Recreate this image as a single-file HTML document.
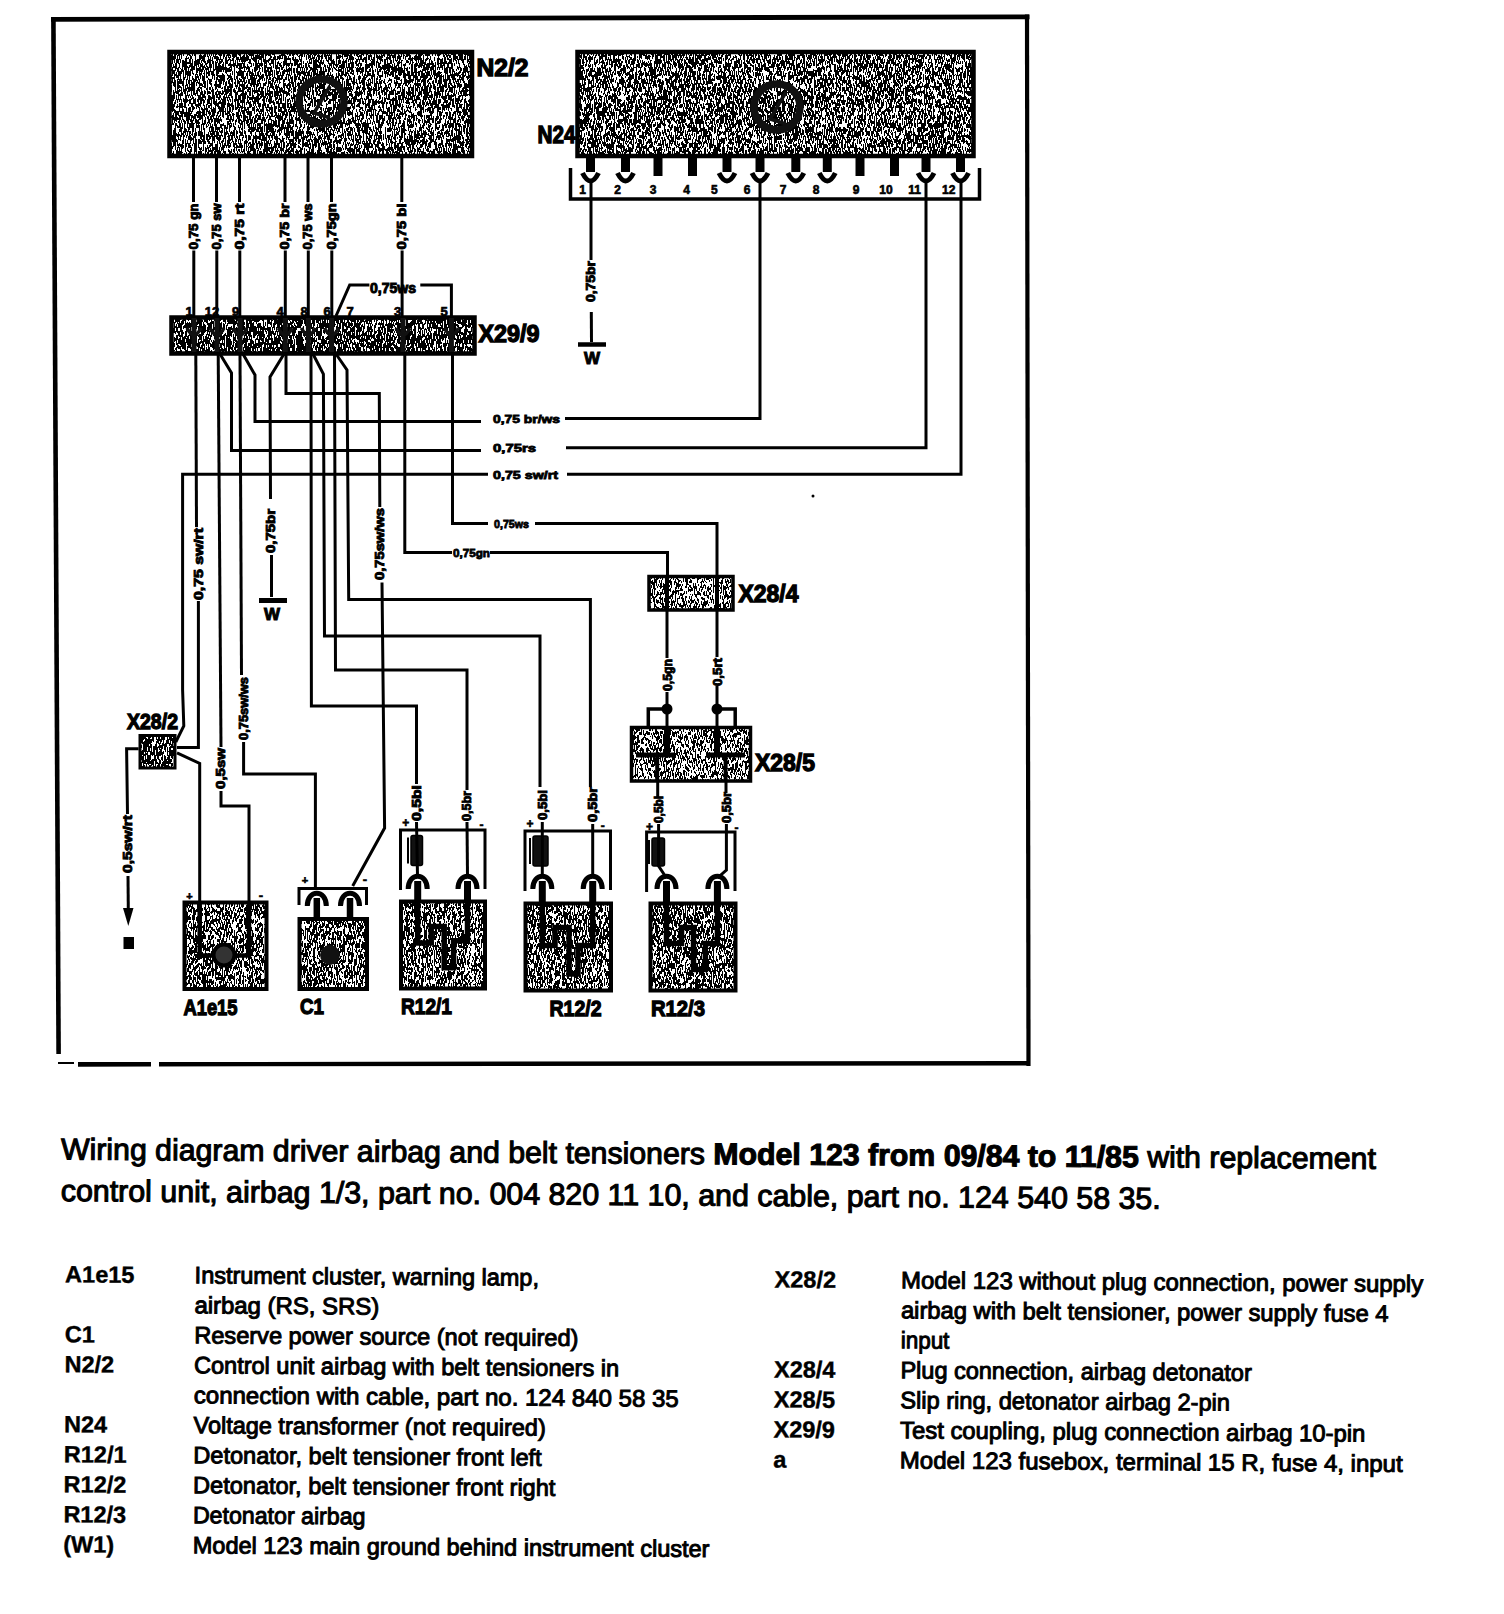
<!DOCTYPE html>
<html><head><meta charset="utf-8"><style>
html,body{margin:0;padding:0;background:#fff;}
svg{display:block;}
text{font-family:"Liberation Sans",sans-serif;fill:#000;}
</style></head><body>
<svg width="1504" height="1614" viewBox="0 0 1504 1614">
<defs><filter id="tx53_3" x="0" y="0" width="1" height="1" color-interpolation-filters="sRGB"><feTurbulence type="fractalNoise" baseFrequency="1.9 0.25" numOctaves="1" seed="3"/><feColorMatrix type="matrix" values="1 0 0 0 0  1 0 0 0 0  1 0 0 0 0  0 0 0 0 1"/><feComponentTransfer><feFuncR type="discrete" tableValues="0 0 0 0 0 0 0 0 0 0 0 0 0 0 0 0 0 0 0 0 0 0 0 0 0 0 0 0 0 0 0 0 0 0 0 0 0 0 0 0 0 0 0 0 0 0 0 0 0 0 0 0 0 1 1 1 1 1 1 1 1 1 1 1 1 1 1 1 1 1 1 1 1 1 1 1 1 1 1 1 1 1 1 1 1 1 1 1 1 1 1 1 1 1 1 1 1 1 1 1"/><feFuncG type="discrete" tableValues="0 0 0 0 0 0 0 0 0 0 0 0 0 0 0 0 0 0 0 0 0 0 0 0 0 0 0 0 0 0 0 0 0 0 0 0 0 0 0 0 0 0 0 0 0 0 0 0 0 0 0 0 0 1 1 1 1 1 1 1 1 1 1 1 1 1 1 1 1 1 1 1 1 1 1 1 1 1 1 1 1 1 1 1 1 1 1 1 1 1 1 1 1 1 1 1 1 1 1 1"/><feFuncB type="discrete" tableValues="0 0 0 0 0 0 0 0 0 0 0 0 0 0 0 0 0 0 0 0 0 0 0 0 0 0 0 0 0 0 0 0 0 0 0 0 0 0 0 0 0 0 0 0 0 0 0 0 0 0 0 0 0 1 1 1 1 1 1 1 1 1 1 1 1 1 1 1 1 1 1 1 1 1 1 1 1 1 1 1 1 1 1 1 1 1 1 1 1 1 1 1 1 1 1 1 1 1 1 1"/></feComponentTransfer></filter><filter id="tx53_5" x="0" y="0" width="1" height="1" color-interpolation-filters="sRGB"><feTurbulence type="fractalNoise" baseFrequency="1.9 0.25" numOctaves="1" seed="5"/><feColorMatrix type="matrix" values="1 0 0 0 0  1 0 0 0 0  1 0 0 0 0  0 0 0 0 1"/><feComponentTransfer><feFuncR type="discrete" tableValues="0 0 0 0 0 0 0 0 0 0 0 0 0 0 0 0 0 0 0 0 0 0 0 0 0 0 0 0 0 0 0 0 0 0 0 0 0 0 0 0 0 0 0 0 0 0 0 0 0 0 0 0 0 1 1 1 1 1 1 1 1 1 1 1 1 1 1 1 1 1 1 1 1 1 1 1 1 1 1 1 1 1 1 1 1 1 1 1 1 1 1 1 1 1 1 1 1 1 1 1"/><feFuncG type="discrete" tableValues="0 0 0 0 0 0 0 0 0 0 0 0 0 0 0 0 0 0 0 0 0 0 0 0 0 0 0 0 0 0 0 0 0 0 0 0 0 0 0 0 0 0 0 0 0 0 0 0 0 0 0 0 0 1 1 1 1 1 1 1 1 1 1 1 1 1 1 1 1 1 1 1 1 1 1 1 1 1 1 1 1 1 1 1 1 1 1 1 1 1 1 1 1 1 1 1 1 1 1 1"/><feFuncB type="discrete" tableValues="0 0 0 0 0 0 0 0 0 0 0 0 0 0 0 0 0 0 0 0 0 0 0 0 0 0 0 0 0 0 0 0 0 0 0 0 0 0 0 0 0 0 0 0 0 0 0 0 0 0 0 0 0 1 1 1 1 1 1 1 1 1 1 1 1 1 1 1 1 1 1 1 1 1 1 1 1 1 1 1 1 1 1 1 1 1 1 1 1 1 1 1 1 1 1 1 1 1 1 1"/></feComponentTransfer></filter><filter id="tx56_9" x="0" y="0" width="1" height="1" color-interpolation-filters="sRGB"><feTurbulence type="fractalNoise" baseFrequency="1.9 0.25" numOctaves="1" seed="9"/><feColorMatrix type="matrix" values="1 0 0 0 0  1 0 0 0 0  1 0 0 0 0  0 0 0 0 1"/><feComponentTransfer><feFuncR type="discrete" tableValues="0 0 0 0 0 0 0 0 0 0 0 0 0 0 0 0 0 0 0 0 0 0 0 0 0 0 0 0 0 0 0 0 0 0 0 0 0 0 0 0 0 0 0 0 0 0 0 0 0 0 0 0 0 0 0 0 1 1 1 1 1 1 1 1 1 1 1 1 1 1 1 1 1 1 1 1 1 1 1 1 1 1 1 1 1 1 1 1 1 1 1 1 1 1 1 1 1 1 1 1"/><feFuncG type="discrete" tableValues="0 0 0 0 0 0 0 0 0 0 0 0 0 0 0 0 0 0 0 0 0 0 0 0 0 0 0 0 0 0 0 0 0 0 0 0 0 0 0 0 0 0 0 0 0 0 0 0 0 0 0 0 0 0 0 0 1 1 1 1 1 1 1 1 1 1 1 1 1 1 1 1 1 1 1 1 1 1 1 1 1 1 1 1 1 1 1 1 1 1 1 1 1 1 1 1 1 1 1 1"/><feFuncB type="discrete" tableValues="0 0 0 0 0 0 0 0 0 0 0 0 0 0 0 0 0 0 0 0 0 0 0 0 0 0 0 0 0 0 0 0 0 0 0 0 0 0 0 0 0 0 0 0 0 0 0 0 0 0 0 0 0 0 0 0 1 1 1 1 1 1 1 1 1 1 1 1 1 1 1 1 1 1 1 1 1 1 1 1 1 1 1 1 1 1 1 1 1 1 1 1 1 1 1 1 1 1 1 1"/></feComponentTransfer></filter><filter id="tx50_11" x="0" y="0" width="1" height="1" color-interpolation-filters="sRGB"><feTurbulence type="fractalNoise" baseFrequency="1.9 0.25" numOctaves="1" seed="11"/><feColorMatrix type="matrix" values="1 0 0 0 0  1 0 0 0 0  1 0 0 0 0  0 0 0 0 1"/><feComponentTransfer><feFuncR type="discrete" tableValues="0 0 0 0 0 0 0 0 0 0 0 0 0 0 0 0 0 0 0 0 0 0 0 0 0 0 0 0 0 0 0 0 0 0 0 0 0 0 0 0 0 0 0 0 0 0 0 0 0 0 1 1 1 1 1 1 1 1 1 1 1 1 1 1 1 1 1 1 1 1 1 1 1 1 1 1 1 1 1 1 1 1 1 1 1 1 1 1 1 1 1 1 1 1 1 1 1 1 1 1"/><feFuncG type="discrete" tableValues="0 0 0 0 0 0 0 0 0 0 0 0 0 0 0 0 0 0 0 0 0 0 0 0 0 0 0 0 0 0 0 0 0 0 0 0 0 0 0 0 0 0 0 0 0 0 0 0 0 0 1 1 1 1 1 1 1 1 1 1 1 1 1 1 1 1 1 1 1 1 1 1 1 1 1 1 1 1 1 1 1 1 1 1 1 1 1 1 1 1 1 1 1 1 1 1 1 1 1 1"/><feFuncB type="discrete" tableValues="0 0 0 0 0 0 0 0 0 0 0 0 0 0 0 0 0 0 0 0 0 0 0 0 0 0 0 0 0 0 0 0 0 0 0 0 0 0 0 0 0 0 0 0 0 0 0 0 0 0 1 1 1 1 1 1 1 1 1 1 1 1 1 1 1 1 1 1 1 1 1 1 1 1 1 1 1 1 1 1 1 1 1 1 1 1 1 1 1 1 1 1 1 1 1 1 1 1 1 1"/></feComponentTransfer></filter><filter id="tx55_13" x="0" y="0" width="1" height="1" color-interpolation-filters="sRGB"><feTurbulence type="fractalNoise" baseFrequency="1.9 0.25" numOctaves="1" seed="13"/><feColorMatrix type="matrix" values="1 0 0 0 0  1 0 0 0 0  1 0 0 0 0  0 0 0 0 1"/><feComponentTransfer><feFuncR type="discrete" tableValues="0 0 0 0 0 0 0 0 0 0 0 0 0 0 0 0 0 0 0 0 0 0 0 0 0 0 0 0 0 0 0 0 0 0 0 0 0 0 0 0 0 0 0 0 0 0 0 0 0 0 0 0 0 0 0 1 1 1 1 1 1 1 1 1 1 1 1 1 1 1 1 1 1 1 1 1 1 1 1 1 1 1 1 1 1 1 1 1 1 1 1 1 1 1 1 1 1 1 1 1"/><feFuncG type="discrete" tableValues="0 0 0 0 0 0 0 0 0 0 0 0 0 0 0 0 0 0 0 0 0 0 0 0 0 0 0 0 0 0 0 0 0 0 0 0 0 0 0 0 0 0 0 0 0 0 0 0 0 0 0 0 0 0 0 1 1 1 1 1 1 1 1 1 1 1 1 1 1 1 1 1 1 1 1 1 1 1 1 1 1 1 1 1 1 1 1 1 1 1 1 1 1 1 1 1 1 1 1 1"/><feFuncB type="discrete" tableValues="0 0 0 0 0 0 0 0 0 0 0 0 0 0 0 0 0 0 0 0 0 0 0 0 0 0 0 0 0 0 0 0 0 0 0 0 0 0 0 0 0 0 0 0 0 0 0 0 0 0 0 0 0 0 0 1 1 1 1 1 1 1 1 1 1 1 1 1 1 1 1 1 1 1 1 1 1 1 1 1 1 1 1 1 1 1 1 1 1 1 1 1 1 1 1 1 1 1 1 1"/></feComponentTransfer></filter><filter id="tx52_15" x="0" y="0" width="1" height="1" color-interpolation-filters="sRGB"><feTurbulence type="fractalNoise" baseFrequency="1.9 0.25" numOctaves="1" seed="15"/><feColorMatrix type="matrix" values="1 0 0 0 0  1 0 0 0 0  1 0 0 0 0  0 0 0 0 1"/><feComponentTransfer><feFuncR type="discrete" tableValues="0 0 0 0 0 0 0 0 0 0 0 0 0 0 0 0 0 0 0 0 0 0 0 0 0 0 0 0 0 0 0 0 0 0 0 0 0 0 0 0 0 0 0 0 0 0 0 0 0 0 0 0 1 1 1 1 1 1 1 1 1 1 1 1 1 1 1 1 1 1 1 1 1 1 1 1 1 1 1 1 1 1 1 1 1 1 1 1 1 1 1 1 1 1 1 1 1 1 1 1"/><feFuncG type="discrete" tableValues="0 0 0 0 0 0 0 0 0 0 0 0 0 0 0 0 0 0 0 0 0 0 0 0 0 0 0 0 0 0 0 0 0 0 0 0 0 0 0 0 0 0 0 0 0 0 0 0 0 0 0 0 1 1 1 1 1 1 1 1 1 1 1 1 1 1 1 1 1 1 1 1 1 1 1 1 1 1 1 1 1 1 1 1 1 1 1 1 1 1 1 1 1 1 1 1 1 1 1 1"/><feFuncB type="discrete" tableValues="0 0 0 0 0 0 0 0 0 0 0 0 0 0 0 0 0 0 0 0 0 0 0 0 0 0 0 0 0 0 0 0 0 0 0 0 0 0 0 0 0 0 0 0 0 0 0 0 0 0 0 0 1 1 1 1 1 1 1 1 1 1 1 1 1 1 1 1 1 1 1 1 1 1 1 1 1 1 1 1 1 1 1 1 1 1 1 1 1 1 1 1 1 1 1 1 1 1 1 1"/></feComponentTransfer></filter><filter id="tx52_17" x="0" y="0" width="1" height="1" color-interpolation-filters="sRGB"><feTurbulence type="fractalNoise" baseFrequency="1.9 0.25" numOctaves="1" seed="17"/><feColorMatrix type="matrix" values="1 0 0 0 0  1 0 0 0 0  1 0 0 0 0  0 0 0 0 1"/><feComponentTransfer><feFuncR type="discrete" tableValues="0 0 0 0 0 0 0 0 0 0 0 0 0 0 0 0 0 0 0 0 0 0 0 0 0 0 0 0 0 0 0 0 0 0 0 0 0 0 0 0 0 0 0 0 0 0 0 0 0 0 0 0 1 1 1 1 1 1 1 1 1 1 1 1 1 1 1 1 1 1 1 1 1 1 1 1 1 1 1 1 1 1 1 1 1 1 1 1 1 1 1 1 1 1 1 1 1 1 1 1"/><feFuncG type="discrete" tableValues="0 0 0 0 0 0 0 0 0 0 0 0 0 0 0 0 0 0 0 0 0 0 0 0 0 0 0 0 0 0 0 0 0 0 0 0 0 0 0 0 0 0 0 0 0 0 0 0 0 0 0 0 1 1 1 1 1 1 1 1 1 1 1 1 1 1 1 1 1 1 1 1 1 1 1 1 1 1 1 1 1 1 1 1 1 1 1 1 1 1 1 1 1 1 1 1 1 1 1 1"/><feFuncB type="discrete" tableValues="0 0 0 0 0 0 0 0 0 0 0 0 0 0 0 0 0 0 0 0 0 0 0 0 0 0 0 0 0 0 0 0 0 0 0 0 0 0 0 0 0 0 0 0 0 0 0 0 0 0 0 0 1 1 1 1 1 1 1 1 1 1 1 1 1 1 1 1 1 1 1 1 1 1 1 1 1 1 1 1 1 1 1 1 1 1 1 1 1 1 1 1 1 1 1 1 1 1 1 1"/></feComponentTransfer></filter><filter id="tx52_401" x="0" y="0" width="1" height="1" color-interpolation-filters="sRGB"><feTurbulence type="fractalNoise" baseFrequency="1.9 0.25" numOctaves="1" seed="401"/><feColorMatrix type="matrix" values="1 0 0 0 0  1 0 0 0 0  1 0 0 0 0  0 0 0 0 1"/><feComponentTransfer><feFuncR type="discrete" tableValues="0 0 0 0 0 0 0 0 0 0 0 0 0 0 0 0 0 0 0 0 0 0 0 0 0 0 0 0 0 0 0 0 0 0 0 0 0 0 0 0 0 0 0 0 0 0 0 0 0 0 0 0 1 1 1 1 1 1 1 1 1 1 1 1 1 1 1 1 1 1 1 1 1 1 1 1 1 1 1 1 1 1 1 1 1 1 1 1 1 1 1 1 1 1 1 1 1 1 1 1"/><feFuncG type="discrete" tableValues="0 0 0 0 0 0 0 0 0 0 0 0 0 0 0 0 0 0 0 0 0 0 0 0 0 0 0 0 0 0 0 0 0 0 0 0 0 0 0 0 0 0 0 0 0 0 0 0 0 0 0 0 1 1 1 1 1 1 1 1 1 1 1 1 1 1 1 1 1 1 1 1 1 1 1 1 1 1 1 1 1 1 1 1 1 1 1 1 1 1 1 1 1 1 1 1 1 1 1 1"/><feFuncB type="discrete" tableValues="0 0 0 0 0 0 0 0 0 0 0 0 0 0 0 0 0 0 0 0 0 0 0 0 0 0 0 0 0 0 0 0 0 0 0 0 0 0 0 0 0 0 0 0 0 0 0 0 0 0 0 0 1 1 1 1 1 1 1 1 1 1 1 1 1 1 1 1 1 1 1 1 1 1 1 1 1 1 1 1 1 1 1 1 1 1 1 1 1 1 1 1 1 1 1 1 1 1 1 1"/></feComponentTransfer></filter><filter id="tx52_525" x="0" y="0" width="1" height="1" color-interpolation-filters="sRGB"><feTurbulence type="fractalNoise" baseFrequency="1.9 0.25" numOctaves="1" seed="525"/><feColorMatrix type="matrix" values="1 0 0 0 0  1 0 0 0 0  1 0 0 0 0  0 0 0 0 1"/><feComponentTransfer><feFuncR type="discrete" tableValues="0 0 0 0 0 0 0 0 0 0 0 0 0 0 0 0 0 0 0 0 0 0 0 0 0 0 0 0 0 0 0 0 0 0 0 0 0 0 0 0 0 0 0 0 0 0 0 0 0 0 0 0 1 1 1 1 1 1 1 1 1 1 1 1 1 1 1 1 1 1 1 1 1 1 1 1 1 1 1 1 1 1 1 1 1 1 1 1 1 1 1 1 1 1 1 1 1 1 1 1"/><feFuncG type="discrete" tableValues="0 0 0 0 0 0 0 0 0 0 0 0 0 0 0 0 0 0 0 0 0 0 0 0 0 0 0 0 0 0 0 0 0 0 0 0 0 0 0 0 0 0 0 0 0 0 0 0 0 0 0 0 1 1 1 1 1 1 1 1 1 1 1 1 1 1 1 1 1 1 1 1 1 1 1 1 1 1 1 1 1 1 1 1 1 1 1 1 1 1 1 1 1 1 1 1 1 1 1 1"/><feFuncB type="discrete" tableValues="0 0 0 0 0 0 0 0 0 0 0 0 0 0 0 0 0 0 0 0 0 0 0 0 0 0 0 0 0 0 0 0 0 0 0 0 0 0 0 0 0 0 0 0 0 0 0 0 0 0 0 0 1 1 1 1 1 1 1 1 1 1 1 1 1 1 1 1 1 1 1 1 1 1 1 1 1 1 1 1 1 1 1 1 1 1 1 1 1 1 1 1 1 1 1 1 1 1 1 1"/></feComponentTransfer></filter><filter id="tx52_650" x="0" y="0" width="1" height="1" color-interpolation-filters="sRGB"><feTurbulence type="fractalNoise" baseFrequency="1.9 0.25" numOctaves="1" seed="650"/><feColorMatrix type="matrix" values="1 0 0 0 0  1 0 0 0 0  1 0 0 0 0  0 0 0 0 1"/><feComponentTransfer><feFuncR type="discrete" tableValues="0 0 0 0 0 0 0 0 0 0 0 0 0 0 0 0 0 0 0 0 0 0 0 0 0 0 0 0 0 0 0 0 0 0 0 0 0 0 0 0 0 0 0 0 0 0 0 0 0 0 0 0 1 1 1 1 1 1 1 1 1 1 1 1 1 1 1 1 1 1 1 1 1 1 1 1 1 1 1 1 1 1 1 1 1 1 1 1 1 1 1 1 1 1 1 1 1 1 1 1"/><feFuncG type="discrete" tableValues="0 0 0 0 0 0 0 0 0 0 0 0 0 0 0 0 0 0 0 0 0 0 0 0 0 0 0 0 0 0 0 0 0 0 0 0 0 0 0 0 0 0 0 0 0 0 0 0 0 0 0 0 1 1 1 1 1 1 1 1 1 1 1 1 1 1 1 1 1 1 1 1 1 1 1 1 1 1 1 1 1 1 1 1 1 1 1 1 1 1 1 1 1 1 1 1 1 1 1 1"/><feFuncB type="discrete" tableValues="0 0 0 0 0 0 0 0 0 0 0 0 0 0 0 0 0 0 0 0 0 0 0 0 0 0 0 0 0 0 0 0 0 0 0 0 0 0 0 0 0 0 0 0 0 0 0 0 0 0 0 0 1 1 1 1 1 1 1 1 1 1 1 1 1 1 1 1 1 1 1 1 1 1 1 1 1 1 1 1 1 1 1 1 1 1 1 1 1 1 1 1 1 1 1 1 1 1 1 1"/></feComponentTransfer></filter><filter id="tx50_21" x="0" y="0" width="1" height="1" color-interpolation-filters="sRGB"><feTurbulence type="fractalNoise" baseFrequency="1.9 0.25" numOctaves="1" seed="21"/><feColorMatrix type="matrix" values="1 0 0 0 0  1 0 0 0 0  1 0 0 0 0  0 0 0 0 1"/><feComponentTransfer><feFuncR type="discrete" tableValues="0 0 0 0 0 0 0 0 0 0 0 0 0 0 0 0 0 0 0 0 0 0 0 0 0 0 0 0 0 0 0 0 0 0 0 0 0 0 0 0 0 0 0 0 0 0 0 0 0 0 1 1 1 1 1 1 1 1 1 1 1 1 1 1 1 1 1 1 1 1 1 1 1 1 1 1 1 1 1 1 1 1 1 1 1 1 1 1 1 1 1 1 1 1 1 1 1 1 1 1"/><feFuncG type="discrete" tableValues="0 0 0 0 0 0 0 0 0 0 0 0 0 0 0 0 0 0 0 0 0 0 0 0 0 0 0 0 0 0 0 0 0 0 0 0 0 0 0 0 0 0 0 0 0 0 0 0 0 0 1 1 1 1 1 1 1 1 1 1 1 1 1 1 1 1 1 1 1 1 1 1 1 1 1 1 1 1 1 1 1 1 1 1 1 1 1 1 1 1 1 1 1 1 1 1 1 1 1 1"/><feFuncB type="discrete" tableValues="0 0 0 0 0 0 0 0 0 0 0 0 0 0 0 0 0 0 0 0 0 0 0 0 0 0 0 0 0 0 0 0 0 0 0 0 0 0 0 0 0 0 0 0 0 0 0 0 0 0 1 1 1 1 1 1 1 1 1 1 1 1 1 1 1 1 1 1 1 1 1 1 1 1 1 1 1 1 1 1 1 1 1 1 1 1 1 1 1 1 1 1 1 1 1 1 1 1 1 1"/></feComponentTransfer></filter></defs>
<rect width="1504" height="1614" fill="#fff"/>
<g stroke="#000" fill="none">
<line x1="51" y1="19.3" x2="1029.5" y2="16.8" stroke-width="4.8"/>
<line x1="53.4" y1="17" x2="58.6" y2="1054" stroke-width="4.6"/>
<line x1="1027" y1="14.5" x2="1028.5" y2="1066" stroke-width="4.2"/>
<line x1="78" y1="1064.4" x2="151" y2="1064.3" stroke-width="4.6"/>
<line x1="159" y1="1064.2" x2="1030" y2="1063.2" stroke-width="4.4"/>
<line x1="58" y1="1063" x2="74" y2="1063" stroke-width="2"/>
</g>
<rect x="169.5" y="52" width="302.5" height="104" fill="#000" filter="url(#tx53_3)"/>
<rect x="169.5" y="52" width="302.5" height="104" fill="none" stroke="#000" stroke-width="4.5"/>
<circle cx="321.5" cy="101.5" r="22.5" fill="none" stroke="#111" stroke-width="7.5"/>
<path d="M330,86 L314,113 L330,118" fill="none" stroke="#111" stroke-width="3.5"/>
<rect x="577.5" y="52" width="396" height="104" fill="#000" filter="url(#tx53_5)"/>
<rect x="577.5" y="52" width="396" height="104" fill="none" stroke="#000" stroke-width="4.5"/>
<circle cx="777" cy="107" r="23" fill="none" stroke="#111" stroke-width="7.5"/>
<path d="M786,92 L770,119 L786,124" fill="none" stroke="#111" stroke-width="3.5"/>
<text x="476.5" y="75.5" font-size="23.5" font-weight="bold" text-anchor="start" stroke="#000" stroke-width="1.3" textLength="52" lengthAdjust="spacingAndGlyphs">N2/2</text>
<text x="537.5" y="143.3" font-size="23.5" font-weight="bold" text-anchor="start" stroke="#000" stroke-width="1.3" textLength="38" lengthAdjust="spacingAndGlyphs">N24</text>
<g stroke="#000" fill="none">
<line x1="193.5" y1="157" x2="193.5" y2="202" stroke-width="3"/>
<line x1="193.8" y1="250.5" x2="193.8" y2="317" stroke-width="3"/>
<line x1="216.5" y1="157" x2="216.5" y2="202" stroke-width="3"/>
<line x1="216.8" y1="250.5" x2="216.8" y2="317" stroke-width="3"/>
<line x1="239.5" y1="157" x2="239.5" y2="202" stroke-width="3"/>
<line x1="239.8" y1="250.5" x2="239.8" y2="317" stroke-width="3"/>
<line x1="285" y1="157" x2="285" y2="202" stroke-width="3"/>
<line x1="285.3" y1="250.5" x2="285.3" y2="317" stroke-width="3"/>
<line x1="308" y1="157" x2="308" y2="202" stroke-width="3"/>
<line x1="308.3" y1="250.5" x2="308.3" y2="317" stroke-width="3"/>
<line x1="331.5" y1="157" x2="331.5" y2="202" stroke-width="3"/>
<line x1="331.8" y1="250.5" x2="331.8" y2="317" stroke-width="3"/>
<line x1="401.8" y1="157" x2="401.8" y2="202" stroke-width="3"/>
<line x1="402.1" y1="250.5" x2="402.1" y2="317" stroke-width="3"/>
<polyline points="336,316 349.7,285 369.4,285" stroke-width="3" fill="none"/>
<polyline points="420.3,285 451.4,285 451.4,318" stroke-width="3" fill="none"/>
<polyline points="570.5,168 570.5,199 979.5,199 979.5,168" stroke-width="3.5" fill="none"/>
<polyline points="591,182 591,260" stroke-width="3" fill="none"/>
<line x1="591.3" y1="312" x2="591.5" y2="342" stroke-width="3"/>
<line x1="578" y1="344.5" x2="606" y2="344.5" stroke-width="4.5"/>
<polyline points="760,182 760,418.4 565,418.4" stroke-width="3" fill="none"/>
<polyline points="926,182 926,447.7 566,447.7" stroke-width="3" fill="none"/>
<polyline points="961,182 961,474.3 567,474.3" stroke-width="3" fill="none"/>
<line x1="590.5" y1="157" x2="590.5" y2="172" stroke-width="9"/>
<path d="M582.5,173 Q590.5,189 598.5,173" stroke-width="5"/>
<line x1="625.5" y1="157" x2="625.5" y2="172" stroke-width="9"/>
<path d="M617.5,173 Q625.5,189 633.5,173" stroke-width="5"/>
<line x1="658" y1="157" x2="658" y2="176" stroke-width="9"/>
<line x1="692.5" y1="157" x2="692.5" y2="176" stroke-width="9"/>
<line x1="727" y1="157" x2="727" y2="172" stroke-width="9"/>
<path d="M719,173 Q727,189 735,173" stroke-width="5"/>
<line x1="760" y1="157" x2="760" y2="172" stroke-width="9"/>
<path d="M752,173 Q760,189 768,173" stroke-width="5"/>
<line x1="795.8" y1="157" x2="795.8" y2="172" stroke-width="9"/>
<path d="M787.8,173 Q795.8,189 803.8,173" stroke-width="5"/>
<line x1="827.3" y1="157" x2="827.3" y2="172" stroke-width="9"/>
<path d="M819.3,173 Q827.3,189 835.3,173" stroke-width="5"/>
<line x1="860" y1="157" x2="860" y2="176" stroke-width="9"/>
<line x1="894.5" y1="157" x2="894.5" y2="176" stroke-width="9"/>
<line x1="926" y1="157" x2="926" y2="172" stroke-width="9"/>
<path d="M918,173 Q926,189 934,173" stroke-width="5"/>
<line x1="960.5" y1="157" x2="960.5" y2="172" stroke-width="9"/>
<path d="M952.5,173 Q960.5,189 968.5,173" stroke-width="5"/>
</g>
<text x="582.5" y="194" font-size="12" font-weight="bold" text-anchor="middle" stroke="#000" stroke-width="0.6" >1</text>
<text x="617.5" y="194" font-size="12" font-weight="bold" text-anchor="middle" stroke="#000" stroke-width="0.6" >2</text>
<text x="653" y="194" font-size="12" font-weight="bold" text-anchor="middle" stroke="#000" stroke-width="0.6" >3</text>
<text x="686.5" y="194" font-size="12" font-weight="bold" text-anchor="middle" stroke="#000" stroke-width="0.6" >4</text>
<text x="714.4" y="194" font-size="12" font-weight="bold" text-anchor="middle" stroke="#000" stroke-width="0.6" >5</text>
<text x="747" y="194" font-size="12" font-weight="bold" text-anchor="middle" stroke="#000" stroke-width="0.6" >6</text>
<text x="783" y="194" font-size="12" font-weight="bold" text-anchor="middle" stroke="#000" stroke-width="0.6" >7</text>
<text x="816" y="194" font-size="12" font-weight="bold" text-anchor="middle" stroke="#000" stroke-width="0.6" >8</text>
<text x="856" y="194" font-size="12" font-weight="bold" text-anchor="middle" stroke="#000" stroke-width="0.6" >9</text>
<text x="886" y="194" font-size="12" font-weight="bold" text-anchor="middle" stroke="#000" stroke-width="0.6" >10</text>
<text x="914.5" y="194" font-size="12" font-weight="bold" text-anchor="middle" stroke="#000" stroke-width="0.6" >11</text>
<text x="948.8" y="194" font-size="12" font-weight="bold" text-anchor="middle" stroke="#000" stroke-width="0.6" >12</text>
<text x="0" y="0" font-size="12" font-weight="bold" text-anchor="middle" textLength="41" lengthAdjust="spacingAndGlyphs" transform="translate(595.3,281.5) rotate(-90)" stroke="#000" stroke-width="0.9">0,75br</text>
<text x="592" y="364" font-size="17" font-weight="bold" text-anchor="middle" stroke="#000" stroke-width="1" >W</text>
<rect x="171.5" y="317.5" width="303" height="36" fill="#000" filter="url(#tx56_9)"/>
<rect x="171.5" y="317.5" width="303" height="36" fill="none" stroke="#000" stroke-width="4.5"/>
<g stroke="#111" fill="none">
<line x1="194" y1="318" x2="194" y2="352" stroke-width="5"/>
<path d="M187,328 Q194,342 201,328" stroke-width="3.5"/>
<line x1="217" y1="318" x2="217" y2="352" stroke-width="5"/>
<path d="M210,328 Q217,342 224,328" stroke-width="3.5"/>
<line x1="240" y1="318" x2="240" y2="352" stroke-width="5"/>
<path d="M233,328 Q240,342 247,328" stroke-width="3.5"/>
<line x1="285.3" y1="318" x2="285.3" y2="352" stroke-width="5"/>
<path d="M278.3,328 Q285.3,342 292.3,328" stroke-width="3.5"/>
<line x1="308.4" y1="318" x2="308.4" y2="352" stroke-width="5"/>
<path d="M301.4,328 Q308.4,342 315.4,328" stroke-width="3.5"/>
<line x1="331.6" y1="318" x2="331.6" y2="352" stroke-width="5"/>
<path d="M324.6,328 Q331.6,342 338.6,328" stroke-width="3.5"/>
<line x1="403" y1="318" x2="403" y2="352" stroke-width="5"/>
<path d="M396,328 Q403,342 410,328" stroke-width="3.5"/>
<line x1="451.4" y1="318" x2="451.4" y2="352" stroke-width="5"/>
<path d="M444.4,328 Q451.4,342 458.4,328" stroke-width="3.5"/>
</g>
<text x="189" y="315.5" font-size="13" font-weight="bold" text-anchor="middle" stroke="#000" stroke-width="0.7" >1</text>
<text x="212" y="315.5" font-size="13" font-weight="bold" text-anchor="middle" stroke="#000" stroke-width="0.7" >12</text>
<text x="235.5" y="315.5" font-size="13" font-weight="bold" text-anchor="middle" stroke="#000" stroke-width="0.7" >9</text>
<text x="280" y="315.5" font-size="13" font-weight="bold" text-anchor="middle" stroke="#000" stroke-width="0.7" >4</text>
<text x="304" y="315.5" font-size="13" font-weight="bold" text-anchor="middle" stroke="#000" stroke-width="0.7" >8</text>
<text x="327" y="315.5" font-size="13" font-weight="bold" text-anchor="middle" stroke="#000" stroke-width="0.7" >6</text>
<text x="350" y="315.5" font-size="13" font-weight="bold" text-anchor="middle" stroke="#000" stroke-width="0.7" >7</text>
<text x="397.5" y="315.5" font-size="13" font-weight="bold" text-anchor="middle" stroke="#000" stroke-width="0.7" >3</text>
<text x="444" y="315.5" font-size="13" font-weight="bold" text-anchor="middle" stroke="#000" stroke-width="0.7" >5</text>
<circle cx="813" cy="496" r="1.5" fill="#000"/>
<text x="478.5" y="342" font-size="23.5" font-weight="bold" text-anchor="start" stroke="#000" stroke-width="1.3" textLength="61" lengthAdjust="spacingAndGlyphs">X29/9</text>
<text x="370" y="293" font-size="14" font-weight="bold" text-anchor="start" stroke="#000" stroke-width="1.0" textLength="46" lengthAdjust="spacingAndGlyphs">0,75ws</text>
<text x="0" y="0" font-size="12" font-weight="bold" text-anchor="middle" textLength="46.0" lengthAdjust="spacingAndGlyphs" transform="translate(197.8,226.5) rotate(-90)" stroke="#000" stroke-width="0.9">0,75 gn</text>
<text x="0" y="0" font-size="12" font-weight="bold" text-anchor="middle" textLength="46.0" lengthAdjust="spacingAndGlyphs" transform="translate(220.8,226.5) rotate(-90)" stroke="#000" stroke-width="0.9">0,75 sw</text>
<text x="0" y="0" font-size="12" font-weight="bold" text-anchor="middle" textLength="46.0" lengthAdjust="spacingAndGlyphs" transform="translate(243.8,226.5) rotate(-90)" stroke="#000" stroke-width="0.9">0,75 rt</text>
<text x="0" y="0" font-size="12" font-weight="bold" text-anchor="middle" textLength="46.0" lengthAdjust="spacingAndGlyphs" transform="translate(289.3,226.5) rotate(-90)" stroke="#000" stroke-width="0.9">0,75 br</text>
<text x="0" y="0" font-size="12" font-weight="bold" text-anchor="middle" textLength="46.0" lengthAdjust="spacingAndGlyphs" transform="translate(312.3,226.5) rotate(-90)" stroke="#000" stroke-width="0.9">0,75 ws</text>
<text x="0" y="0" font-size="12" font-weight="bold" text-anchor="middle" textLength="46.0" lengthAdjust="spacingAndGlyphs" transform="translate(335.8,226.5) rotate(-90)" stroke="#000" stroke-width="0.9">0,75gn</text>
<text x="0" y="0" font-size="12" font-weight="bold" text-anchor="middle" textLength="46.0" lengthAdjust="spacingAndGlyphs" transform="translate(406.1,226.5) rotate(-90)" stroke="#000" stroke-width="0.9">0,75 bl</text>
<g stroke="#000" fill="none">
<polyline points="195.8,354 196.5,527" stroke-width="3" fill="none"/>
<polyline points="218.2,354 221,747" stroke-width="3" fill="none"/>
<polyline points="220,354 231.5,373 231.5,450.5 481,450.5" stroke-width="3" fill="none"/>
<polyline points="240,354 241.5,675" stroke-width="3" fill="none"/>
<polyline points="243,354 255,375 255,421.5 481,421.5" stroke-width="3" fill="none"/>
<polyline points="284,354 270,377 270.5,499" stroke-width="3" fill="none"/>
<polyline points="286,354 286,393.5 379.3,393.5 379.8,507" stroke-width="3" fill="none"/>
<polyline points="311,354 311.4,706 416.5,706 416.5,784" stroke-width="3" fill="none"/>
<polyline points="313,354 323.4,374 324.5,636 540,636 540,787" stroke-width="3" fill="none"/>
<polyline points="334.5,354 335.5,670 467,670 467,790" stroke-width="3" fill="none"/>
<polyline points="336,354 347,370 348.7,599.4 590.4,599.4 590.4,787" stroke-width="3" fill="none"/>
<polyline points="404.8,354 404.8,552.6 452,552.6" stroke-width="3" fill="none"/>
<line x1="490" y1="552.6" x2="667.5" y2="552.6" stroke-width="3"/>
<line x1="667.5" y1="551" x2="667.5" y2="576" stroke-width="3"/>
<polyline points="452.5,354 452.5,523.4 488,523.4" stroke-width="3" fill="none"/>
<polyline points="535,523.4 717,523.4 717,576" stroke-width="3" fill="none"/>
<polyline points="182.6,690 182.6,474.3 488,474.3" stroke-width="3" fill="none"/>
</g>
<text x="493" y="423" font-size="11" font-weight="bold" text-anchor="start" stroke="#000" stroke-width="0.8" textLength="67" lengthAdjust="spacingAndGlyphs">0,75 br/ws</text>
<text x="493" y="452" font-size="11" font-weight="bold" text-anchor="start" stroke="#000" stroke-width="0.8" textLength="43" lengthAdjust="spacingAndGlyphs">0,75rs</text>
<text x="493" y="478.5" font-size="11" font-weight="bold" text-anchor="start" stroke="#000" stroke-width="0.8" textLength="65" lengthAdjust="spacingAndGlyphs">0,75 sw/rt</text>
<text x="494" y="527.5" font-size="11" font-weight="bold" text-anchor="start" stroke="#000" stroke-width="0.8" textLength="35" lengthAdjust="spacingAndGlyphs">0,75ws</text>
<text x="453" y="557" font-size="11" font-weight="bold" text-anchor="start" stroke="#000" stroke-width="0.8" textLength="37" lengthAdjust="spacingAndGlyphs">0,75gn</text>
<g stroke="#000" fill="none">
<line x1="271.5" y1="555" x2="271.5" y2="597" stroke-width="3"/>
<line x1="259" y1="600.5" x2="287" y2="600.5" stroke-width="5"/>
</g>
<text x="272" y="620" font-size="17" font-weight="bold" text-anchor="middle" stroke="#000" stroke-width="1" >W</text>
<text x="0" y="0" font-size="12" font-weight="bold" text-anchor="middle" textLength="44" lengthAdjust="spacingAndGlyphs" transform="translate(274.8,531.0) rotate(-90)" stroke="#000" stroke-width="0.9">0,75br</text>
<text x="0" y="0" font-size="12" font-weight="bold" text-anchor="middle" textLength="72" lengthAdjust="spacingAndGlyphs" transform="translate(202.7,564.0) rotate(-90)" stroke="#000" stroke-width="0.9">0,75 sw/rt</text>
<text x="0" y="0" font-size="12" font-weight="bold" text-anchor="middle" textLength="72" lengthAdjust="spacingAndGlyphs" transform="translate(384.3,544.0) rotate(-90)" stroke="#000" stroke-width="0.9">0,75sw/ws</text>
<rect x="649" y="576.5" width="84" height="33.5" fill="#000" filter="url(#tx50_11)"/>
<rect x="649" y="576.5" width="84" height="33.5" fill="none" stroke="#000" stroke-width="3.5"/>
<g stroke="#000" fill="none"><line x1="667" y1="577" x2="667" y2="610" stroke-width="4"/><line x1="717" y1="577" x2="717" y2="610" stroke-width="4"/></g>
<text x="738.5" y="601.8" font-size="23.5" font-weight="bold" text-anchor="start" stroke="#000" stroke-width="1.3" textLength="60" lengthAdjust="spacingAndGlyphs">X28/4</text>
<g stroke="#000" fill="none">
<polyline points="182.6,690 183.8,726 175.8,742" stroke-width="3" fill="none"/>
<polyline points="198.4,601 198.4,747.4 177,747.4" stroke-width="3" fill="none"/>
<polyline points="177,752.8 199.7,763.4 199.7,905" stroke-width="3" fill="none"/>
<polyline points="221,791 221,806 249,806 249,905" stroke-width="3" fill="none"/>
<polyline points="243.6,742 243.6,774 315.4,774 315.4,888" stroke-width="3" fill="none"/>
<polyline points="138.6,748.8 126.6,748.8 127.5,814" stroke-width="3" fill="none"/>
<line x1="128" y1="876" x2="128.3" y2="910" stroke-width="3"/>
<polyline points="382,582.5 384.6,828 352.7,886" stroke-width="3" fill="none"/>
</g>
<path d="M123,908 L133.5,908 L128.3,926 Z" fill="#000"/>
<rect x="123.5" y="937" width="10.5" height="12" fill="#000"/>
<text x="0" y="0" font-size="12" font-weight="bold" text-anchor="middle" textLength="58" lengthAdjust="spacingAndGlyphs" transform="translate(132.3,844.0) rotate(-90)" stroke="#000" stroke-width="0.9">0,5sw/rt</text>
<text x="0" y="0" font-size="12" font-weight="bold" text-anchor="middle" textLength="41" lengthAdjust="spacingAndGlyphs" transform="translate(225.3,768.5) rotate(-90)" stroke="#000" stroke-width="0.9">0,5sw</text>
<text x="0" y="0" font-size="12" font-weight="bold" text-anchor="middle" textLength="63" lengthAdjust="spacingAndGlyphs" transform="translate(247.9,708.5) rotate(-90)" stroke="#000" stroke-width="0.9">0,75sw/ws</text>
<rect x="140" y="735.5" width="35" height="32.5" fill="#000" filter="url(#tx55_13)"/>
<rect x="140" y="735.5" width="35" height="32.5" fill="none" stroke="#000" stroke-width="3"/>
<text x="127" y="729.4" font-size="22.5" font-weight="bold" text-anchor="start" stroke="#000" stroke-width="1.3" textLength="51" lengthAdjust="spacingAndGlyphs">X28/2</text>
<rect x="184.5" y="902.5" width="82" height="86.5" fill="#000" filter="url(#tx52_15)"/>
<rect x="184.5" y="902.5" width="82" height="86.5" fill="none" stroke="#000" stroke-width="4"/>
<g stroke="#000" fill="none">
<polyline points="199.7,902 199.7,955.5 249,955.5 249,902" stroke-width="4.5" fill="none"/>
</g>
<circle cx="224" cy="955" r="10.5" fill="#333" stroke="#000" stroke-width="4"/>
<text x="189.5" y="900" font-size="11" font-weight="bold" text-anchor="middle" stroke="#000" stroke-width="0.6" >+</text>
<text x="261" y="900" font-size="13" font-weight="bold" text-anchor="middle" stroke="#000" stroke-width="0.6" >-</text>
<text x="183.5" y="1014.8" font-size="22.5" font-weight="bold" text-anchor="start" stroke="#000" stroke-width="1.3" textLength="54" lengthAdjust="spacingAndGlyphs">A1e15</text>
<rect x="299.5" y="919" width="67.5" height="70" fill="#000" filter="url(#tx52_17)"/>
<rect x="299.5" y="919" width="67.5" height="70" fill="none" stroke="#000" stroke-width="4"/>
<g stroke="#000" fill="none">
<polyline points="299,905 299,888.5 366.5,888.5 366.5,905" stroke-width="3" fill="none"/>
<path d="M307.3,906 C307.3,889 326.3,889 326.3,906" stroke-width="5"/>
<line x1="316.8" y1="898" x2="316.8" y2="919" stroke-width="6.5"/>
<path d="M340.5,906 C340.5,889 359.5,889 359.5,906" stroke-width="5"/>
<line x1="350" y1="898" x2="350" y2="919" stroke-width="6.5"/>
</g>
<circle cx="330" cy="955" r="10" fill="#111"/>
<text x="305" y="884" font-size="11" font-weight="bold" text-anchor="middle" stroke="#000" stroke-width="0.6" >+</text>
<text x="365" y="884" font-size="13" font-weight="bold" text-anchor="middle" stroke="#000" stroke-width="0.6" >-</text>
<text x="300" y="1013.6" font-size="22.5" font-weight="bold" text-anchor="start" stroke="#000" stroke-width="1.3" textLength="24" lengthAdjust="spacingAndGlyphs">C1</text>
<rect x="401" y="901.5" width="84" height="87.0" fill="#000" filter="url(#tx52_401)"/>
<rect x="401" y="901.5" width="84" height="87.0" fill="none" stroke="#000" stroke-width="4"/>
<g stroke="#000" fill="none">
<polyline points="400.5,890 400.5,830 485,830 485,889" stroke-width="3" fill="none"/>
<path d="M408.2,889 C408.2,872 427.2,872 427.2,889" stroke-width="5"/>
<line x1="417.7" y1="881" x2="417.7" y2="902.5" stroke-width="7"/>
<path d="M458.0,889 C458.0,872 477.0,872 477.0,889" stroke-width="5"/>
<line x1="467.5" y1="881" x2="467.5" y2="902.5" stroke-width="7"/>
<polyline points="417.7,902 417.7,943 431.2,943 431.2,926.6 444.2,926.6 444.2,967.8 453.6,967.8 453.6,940.8 467.5,940.8 467.5,902" stroke-width="5.5" fill="none"/>
</g>
<rect x="411" y="835.5" width="11.5" height="30.0" rx="2" fill="#111" stroke="#000" stroke-width="1.5"/>
<line x1="408" y1="837.5" x2="408" y2="863.5" stroke="#000" stroke-width="2"/>
<g stroke="#000" fill="none">
<line x1="416.5" y1="822" x2="417.5" y2="876" stroke-width="3"/>
<line x1="467" y1="822" x2="467.5" y2="876" stroke-width="3"/>
</g>
<rect x="525.5" y="903.5" width="85.5" height="87.0" fill="#000" filter="url(#tx52_525)"/>
<rect x="525.5" y="903.5" width="85.5" height="87.0" fill="none" stroke="#000" stroke-width="4"/>
<g stroke="#000" fill="none">
<polyline points="525,891 525,831 610.5,831 610.5,890" stroke-width="3" fill="none"/>
<path d="M532.8,889 C532.8,872 551.8,872 551.8,889" stroke-width="5"/>
<line x1="542.3" y1="881" x2="542.3" y2="904.5" stroke-width="7"/>
<path d="M583.2,889 C583.2,872 602.2,872 602.2,889" stroke-width="5"/>
<line x1="592.7" y1="881" x2="592.7" y2="904.5" stroke-width="7"/>
<polyline points="542.3,903 542.3,945.6 555,945.6 555,927.6 569,927.6 569,974 578,974 578,945.6 592.7,945.6 592.7,903" stroke-width="5.5" fill="none"/>
</g>
<rect x="533" y="836" width="15" height="30" rx="2" fill="#111" stroke="#000" stroke-width="1.5"/>
<line x1="530" y1="838" x2="530" y2="864" stroke="#000" stroke-width="2"/>
<g stroke="#000" fill="none">
<line x1="542.3" y1="822" x2="542.3" y2="876" stroke-width="3"/>
<line x1="592.7" y1="824" x2="592.7" y2="876" stroke-width="3"/>
</g>
<rect x="650.5" y="903.5" width="85.0" height="87.0" fill="#000" filter="url(#tx52_650)"/>
<rect x="650.5" y="903.5" width="85.0" height="87.0" fill="none" stroke="#000" stroke-width="4"/>
<g stroke="#000" fill="none">
<polyline points="646.6,892 646.6,832 735,832 735,891" stroke-width="3" fill="none"/>
<path d="M657.0,889 C657.0,872 676.0,872 676.0,889" stroke-width="5"/>
<line x1="666.5" y1="881" x2="666.5" y2="904.5" stroke-width="7"/>
<path d="M707.9,889 C707.9,872 726.9,872 726.9,889" stroke-width="5"/>
<line x1="717.4" y1="881" x2="717.4" y2="904.5" stroke-width="7"/>
<polyline points="666.5,903 666.5,943.6 681.5,943.6 681.5,927.6 693.5,927.6 693.5,969.5 705.4,969.5 705.4,943.6 717.4,943.6 717.4,903" stroke-width="5.5" fill="none"/>
</g>
<rect x="652" y="838" width="12.5" height="28" rx="2" fill="#111" stroke="#000" stroke-width="1.5"/>
<line x1="649" y1="840" x2="649" y2="864" stroke="#000" stroke-width="2"/>
<g stroke="#000" fill="none">
<polyline points="658.6,824 658.6,866 666.5,878" stroke-width="3" fill="none"/>
<polyline points="726.4,824 726.4,870 717.4,878" stroke-width="3" fill="none"/>
</g>
<text x="405.8" y="827" font-size="12" font-weight="bold" text-anchor="middle" stroke="#000" stroke-width="0.6" >+</text>
<text x="481.6" y="829" font-size="12" font-weight="bold" text-anchor="middle" stroke="#000" stroke-width="0.6" >-</text>
<text x="530" y="828" font-size="12" font-weight="bold" text-anchor="middle" stroke="#000" stroke-width="0.6" >+</text>
<text x="602.7" y="830" font-size="12" font-weight="bold" text-anchor="middle" stroke="#000" stroke-width="0.6" >-</text>
<text x="649.6" y="831" font-size="12" font-weight="bold" text-anchor="middle" stroke="#000" stroke-width="0.6" >+</text>
<text x="736.4" y="832" font-size="12" font-weight="bold" text-anchor="middle" stroke="#000" stroke-width="0.6" >-</text>
<text x="401" y="1013.6" font-size="22.5" font-weight="bold" text-anchor="start" stroke="#000" stroke-width="1.3" textLength="51" lengthAdjust="spacingAndGlyphs">R12/1</text>
<text x="549.5" y="1015.8" font-size="22.5" font-weight="bold" text-anchor="start" stroke="#000" stroke-width="1.3" textLength="52" lengthAdjust="spacingAndGlyphs">R12/2</text>
<text x="651" y="1015.8" font-size="22.5" font-weight="bold" text-anchor="start" stroke="#000" stroke-width="1.3" textLength="54" lengthAdjust="spacingAndGlyphs">R12/3</text>
<text x="0" y="0" font-size="12" font-weight="bold" text-anchor="middle" textLength="36" lengthAdjust="spacingAndGlyphs" transform="translate(420.8,803.0) rotate(-90)" stroke="#000" stroke-width="0.9">0,5bl</text>
<text x="0" y="0" font-size="12" font-weight="bold" text-anchor="middle" textLength="30" lengthAdjust="spacingAndGlyphs" transform="translate(471.3,806.0) rotate(-90)" stroke="#000" stroke-width="0.9">0,5br</text>
<text x="0" y="0" font-size="12" font-weight="bold" text-anchor="middle" textLength="30" lengthAdjust="spacingAndGlyphs" transform="translate(546.6,805.0) rotate(-90)" stroke="#000" stroke-width="0.9">0,5bl</text>
<text x="0" y="0" font-size="12" font-weight="bold" text-anchor="middle" textLength="35" lengthAdjust="spacingAndGlyphs" transform="translate(597.0,804.5) rotate(-90)" stroke="#000" stroke-width="0.9">0,5br</text>
<text x="0" y="0" font-size="12" font-weight="bold" text-anchor="middle" textLength="27" lengthAdjust="spacingAndGlyphs" transform="translate(662.9,809.5) rotate(-90)" stroke="#000" stroke-width="0.9">0,5bl</text>
<text x="0" y="0" font-size="12" font-weight="bold" text-anchor="middle" textLength="31" lengthAdjust="spacingAndGlyphs" transform="translate(730.7,807.5) rotate(-90)" stroke="#000" stroke-width="0.9">0,5br</text>
<g stroke="#000" fill="none">
<line x1="667" y1="611" x2="667" y2="658" stroke-width="3"/>
<line x1="667" y1="692" x2="667" y2="727" stroke-width="3"/>
<line x1="717" y1="611" x2="717" y2="657" stroke-width="3"/>
<line x1="717" y1="686" x2="717" y2="727" stroke-width="3"/>
<polyline points="648.3,727 648.3,709 667,709" stroke-width="3.5" fill="none"/>
<polyline points="717,709 735.2,709 735.2,727" stroke-width="3.5" fill="none"/>
</g>
<circle cx="667" cy="709" r="5.5" fill="#000"/><circle cx="717" cy="709" r="5.5" fill="#000"/>
<text x="0" y="0" font-size="12" font-weight="bold" text-anchor="middle" textLength="32" lengthAdjust="spacingAndGlyphs" transform="translate(671.8,675.0) rotate(-90)" stroke="#000" stroke-width="0.9">0,5gn</text>
<text x="0" y="0" font-size="12" font-weight="bold" text-anchor="middle" textLength="28" lengthAdjust="spacingAndGlyphs" transform="translate(721.7,672.0) rotate(-90)" stroke="#000" stroke-width="0.9">0,5rt</text>
<rect x="631.5" y="727.5" width="119" height="53.5" fill="#000" filter="url(#tx50_21)"/>
<rect x="631.5" y="727.5" width="119" height="53.5" fill="none" stroke="#000" stroke-width="3.5"/>
<g stroke="#000" fill="none">
<line x1="636" y1="755" x2="675" y2="755" stroke-width="5"/>
<line x1="706" y1="755" x2="745" y2="755" stroke-width="5"/>
<line x1="667" y1="727" x2="667" y2="755" stroke-width="6"/>
<line x1="717" y1="727" x2="717" y2="755" stroke-width="6"/>
<line x1="657.2" y1="755" x2="657.2" y2="782" stroke-width="4"/>
<line x1="725.6" y1="755" x2="725.6" y2="782" stroke-width="4"/>
<line x1="657.7" y1="782" x2="657.7" y2="797" stroke-width="3"/>
<line x1="726" y1="782" x2="726" y2="793" stroke-width="3"/>
</g>
<text x="755" y="771.4" font-size="23.5" font-weight="bold" text-anchor="start" stroke="#000" stroke-width="1.3" textLength="60" lengthAdjust="spacingAndGlyphs">X28/5</text>
<g transform="rotate(0.41 61 1159.5)">
<text x="61" y="1159.5" font-size="30.25" stroke="#000" stroke-width="1.1">Wiring diagram driver airbag and belt tensioners <tspan font-weight="bold">Model 123 from 09/84 to 11/85</tspan> with replacement</text>
<text x="61" y="1201" font-size="30.3" textLength="1100" lengthAdjust="spacingAndGlyphs" stroke="#000" stroke-width="1.1">control unit, airbag 1/3, part no. 004 820 11 10, and cable, part no. 124 540 58 35.</text>
<text x="66" y="1282.3" font-size="23.5" font-weight="bold" stroke="#000" stroke-width="0.4">A1e15</text>
<text x="195.5" y="1282.3" font-size="23.6" textLength="344.3" lengthAdjust="spacingAndGlyphs" stroke="#000" stroke-width="1.0">Instrument cluster, warning lamp,</text>
<text x="195.5" y="1312.3" font-size="23.6" textLength="184.9" lengthAdjust="spacingAndGlyphs" stroke="#000" stroke-width="1.0">airbag (RS, SRS)</text>
<text x="66" y="1342.3" font-size="23.5" font-weight="bold" stroke="#000" stroke-width="0.4">C1</text>
<text x="195.5" y="1342.3" font-size="23.6" textLength="384.2" lengthAdjust="spacingAndGlyphs" stroke="#000" stroke-width="1.0">Reserve power source (not required)</text>
<text x="66" y="1372.3" font-size="23.5" font-weight="bold" stroke="#000" stroke-width="0.4">N2/2</text>
<text x="195.5" y="1372.3" font-size="23.6" textLength="425.1" lengthAdjust="spacingAndGlyphs" stroke="#000" stroke-width="1.0">Control unit airbag with belt tensioners in</text>
<text x="195.5" y="1402.3" font-size="23.6" textLength="484.9" lengthAdjust="spacingAndGlyphs" stroke="#000" stroke-width="1.0">connection with cable, part no. 124 840 58 35</text>
<text x="66" y="1432.3" font-size="23.5" font-weight="bold" stroke="#000" stroke-width="0.4">N24</text>
<text x="195.5" y="1432.3" font-size="23.6" textLength="352.2" lengthAdjust="spacingAndGlyphs" stroke="#000" stroke-width="1.0">Voltage transformer (not required)</text>
<text x="66" y="1462.3" font-size="23.5" font-weight="bold" stroke="#000" stroke-width="0.4">R12/1</text>
<text x="195.5" y="1462.3" font-size="23.6" textLength="348.3" lengthAdjust="spacingAndGlyphs" stroke="#000" stroke-width="1.0">Detonator, belt tensioner front left</text>
<text x="66" y="1492.3" font-size="23.5" font-weight="bold" stroke="#000" stroke-width="0.4">R12/2</text>
<text x="195.5" y="1492.3" font-size="23.6" textLength="362.2" lengthAdjust="spacingAndGlyphs" stroke="#000" stroke-width="1.0">Detonator, belt tensioner front right</text>
<text x="66" y="1522.3" font-size="23.5" font-weight="bold" stroke="#000" stroke-width="0.4">R12/3</text>
<text x="195.5" y="1522.3" font-size="23.6" textLength="172.5" lengthAdjust="spacingAndGlyphs" stroke="#000" stroke-width="1.0">Detonator airbag</text>
<text x="66" y="1552.3" font-size="23.5" font-weight="bold" stroke="#000" stroke-width="0.4">(W1)</text>
<text x="195.5" y="1552.3" font-size="23.6" textLength="516.8" lengthAdjust="spacingAndGlyphs" stroke="#000" stroke-width="1.0">Model 123 main ground behind instrument cluster</text>
<text x="775.5" y="1282.3" font-size="23.5" font-weight="bold" stroke="#000" stroke-width="0.4">X28/2</text>
<text x="902" y="1282.3" font-size="23.8" textLength="522" lengthAdjust="spacingAndGlyphs" stroke="#000" stroke-width="1.0">Model 123 without plug connection, power supply</text>
<text x="902" y="1312.3" font-size="23.8" textLength="487.7" lengthAdjust="spacingAndGlyphs" stroke="#000" stroke-width="1.0">airbag with belt tensioner, power supply fuse 4</text>
<text x="902" y="1342.3" font-size="23.8" textLength="48.7" lengthAdjust="spacingAndGlyphs" stroke="#000" stroke-width="1.0">input</text>
<text x="775.5" y="1372.3" font-size="23.5" font-weight="bold" stroke="#000" stroke-width="0.4">X28/4</text>
<text x="902" y="1372.3" font-size="23.8" textLength="351.3" lengthAdjust="spacingAndGlyphs" stroke="#000" stroke-width="1.0">Plug connection, airbag detonator</text>
<text x="775.5" y="1402.3" font-size="23.5" font-weight="bold" stroke="#000" stroke-width="0.4">X28/5</text>
<text x="902" y="1402.3" font-size="23.8" textLength="329.7" lengthAdjust="spacingAndGlyphs" stroke="#000" stroke-width="1.0">Slip ring, detonator airbag 2-pin</text>
<text x="775.5" y="1432.3" font-size="23.5" font-weight="bold" stroke="#000" stroke-width="0.4">X29/9</text>
<text x="902" y="1432.3" font-size="23.8" textLength="465.3" lengthAdjust="spacingAndGlyphs" stroke="#000" stroke-width="1.0">Test coupling, plug connection airbag 10-pin</text>
<text x="775.5" y="1462.3" font-size="23.5" font-weight="bold" stroke="#000" stroke-width="0.4">a</text>
<text x="902" y="1462.3" font-size="23.8" textLength="502.8" lengthAdjust="spacingAndGlyphs" stroke="#000" stroke-width="1.0">Model 123 fusebox, terminal 15 R, fuse 4, input</text>
</g>
</svg>
</body></html>
